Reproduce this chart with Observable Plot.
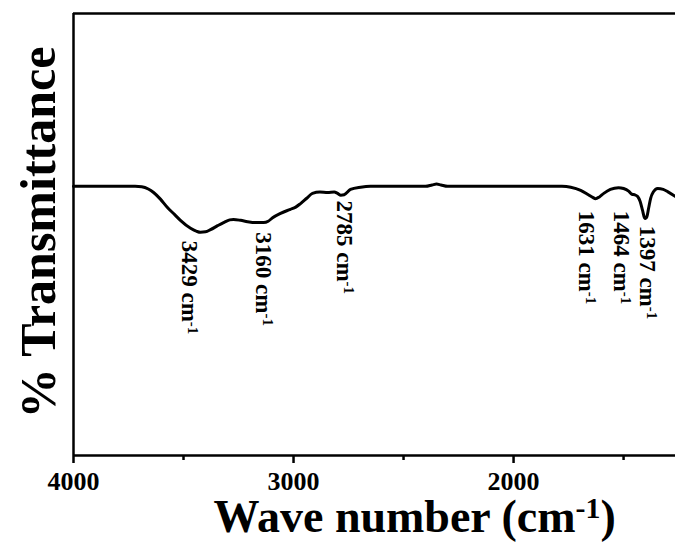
<!DOCTYPE html>
<html>
<head>
<meta charset="utf-8">
<script src="https://cdn.jsdelivr.net/npm/d3@7"></script>
<script src="https://cdn.jsdelivr.net/npm/@observablehq/plot@0.6"></script>
<style>
  html, body { margin: 0; padding: 0; background: #fff; }
  #chart svg { display: block; }
</style>
</head>
<body>
<div id="chart"></div>
<script>
// Spectrum (wavenumber in cm-1, transmittance in arbitrary %)
const wavenumber = [4000,3850,3720,3690,3660,3636,3605,3573,3540,3514,3468,3440,3423,3400,3377,3345,3318,3290,3273,3240,3209,3170,3136,3115,3095,3059,3014,2990,2968,2940,2914,2880,2845,2815,2800,2785,2770,2741,2695,2650,2400,2370,2350,2330,2300,1780,1740,1695,1660,1640,1627,1610,1590,1560,1523,1500,1477,1462,1450,1436,1425,1414,1405,1400,1394,1386,1377,1365,1345,1320,1300,1264];
const transmittance = [60.9,60.9,60.9,60.8,60.3,59.5,58.0,56.1,54.5,53.2,51.4,50.7,50.5,50.6,51.1,52.0,52.7,53.3,53.4,53.2,52.9,52.7,52.7,53.0,53.8,54.8,55.7,56.2,57.0,58.2,59.3,59.6,59.5,59.6,59.3,58.9,59.0,60.2,60.7,60.9,60.9,61.2,61.4,61.2,60.9,60.9,60.7,60.0,59.0,58.4,58.1,58.5,59.3,60.2,60.6,60.4,59.8,59.1,59.0,58.6,57.5,55.5,53.8,53.6,54.0,56.0,58.2,59.6,60.4,60.2,59.7,58.6];

// Peak annotations
const peakWavenumbers = [3429, 3160, 2785, 1631, 1464, 1397];
const peakLabelTop = [48.6, 50.5, 57.7, 55.4, 55.4, 52.0];
const peakLabelNudge = [-10, 5, 4, -8, -10, 1];

// Axis ticks
const majorTicks = [4000, 3000, 2000];
const minorTicks = [3500, 2500, 1500];

const xTitle = "Wave number (cm-1)";
const yTitle = "% Transmittance";

const spectrum = wavenumber.map((w, i) => ({w, t: transmittance[i]}));

const font = "'Liberation Serif', 'Times New Roman', serif";

const peakMarks = peakWavenumbers.map((p, i) =>
  Plot.text([{w: p, t: peakLabelTop[i], label: `${p} cm-1`}], {
    x: "w", y: "t", text: "label",
    rotate: 90, textAnchor: "start", lineAnchor: "middle",
    dx: peakLabelNudge[i],
    fontSize: 23, fontWeight: "bold", fill: "#000", fontFamily: font
  })
);

const chart = Plot.plot({
  width: 675,
  height: 543,
  marginLeft: 73,
  marginRight: 0,
  marginTop: 13,
  marginBottom: 88,
  style: {fontFamily: font, background: "#fff", color: "#000", overflow: "visible"},
  x: {domain: [4000, 1264], axis: null},
  y: {domain: [0, 100], axis: null},
  marks: [
    Plot.ruleY([0, 100], {stroke: "#000", strokeWidth: 2.5}),
    Plot.ruleX([4000], {stroke: "#000", strokeWidth: 2.5}),
    Plot.axisX(minorTicks, {tickSize: 5, tickFormat: () => "", strokeWidth: 2.5, stroke: "#000", label: null}),
    Plot.axisX(majorTicks, {tickSize: 8, tickPadding: 8, tickFormat: d => String(d), fontSize: 26, fontWeight: "bold", strokeWidth: 2.5, stroke: "#000", fill: "#000", label: null, fontFamily: font}),
    Plot.line(spectrum, {x: "w", y: "t", stroke: "#000", strokeWidth: 3, curve: "monotone-x"}),
    ...peakMarks,
    Plot.text([xTitle], {frameAnchor: "bottom-left", textAnchor: "start", lineAnchor: "bottom", dx: 140, dy: 76, fontSize: 46, fontWeight: "bold", fill: "#000", fontFamily: font}),
    Plot.text([yTitle], {frameAnchor: "left", rotate: -90, textAnchor: "middle", lineAnchor: "bottom", dx: -19, dy: -2, fontSize: 50, fontWeight: "bold", fill: "#000", fontFamily: font})
  ]
});

// Render "cm-1" with a real superscript
d3.select(chart).selectAll("text").each(function() {
  const el = this;
  if (el.querySelector("tspan")) return;
  const s = el.textContent;
  const m = s.match(/^(.*cm)-1(\)?)$/);
  if (!m) return;
  el.textContent = "";
  const sel = d3.select(el);
  sel.append("tspan").text(m[1]);
  sel.append("tspan").attr("dy", "-0.45em").attr("font-size", "0.65em").text("-1");
  if (m[2]) sel.append("tspan").attr("dy", "0.3em").text(m[2]);
});

document.getElementById("chart").appendChild(chart);
</script>
</body>
</html>
